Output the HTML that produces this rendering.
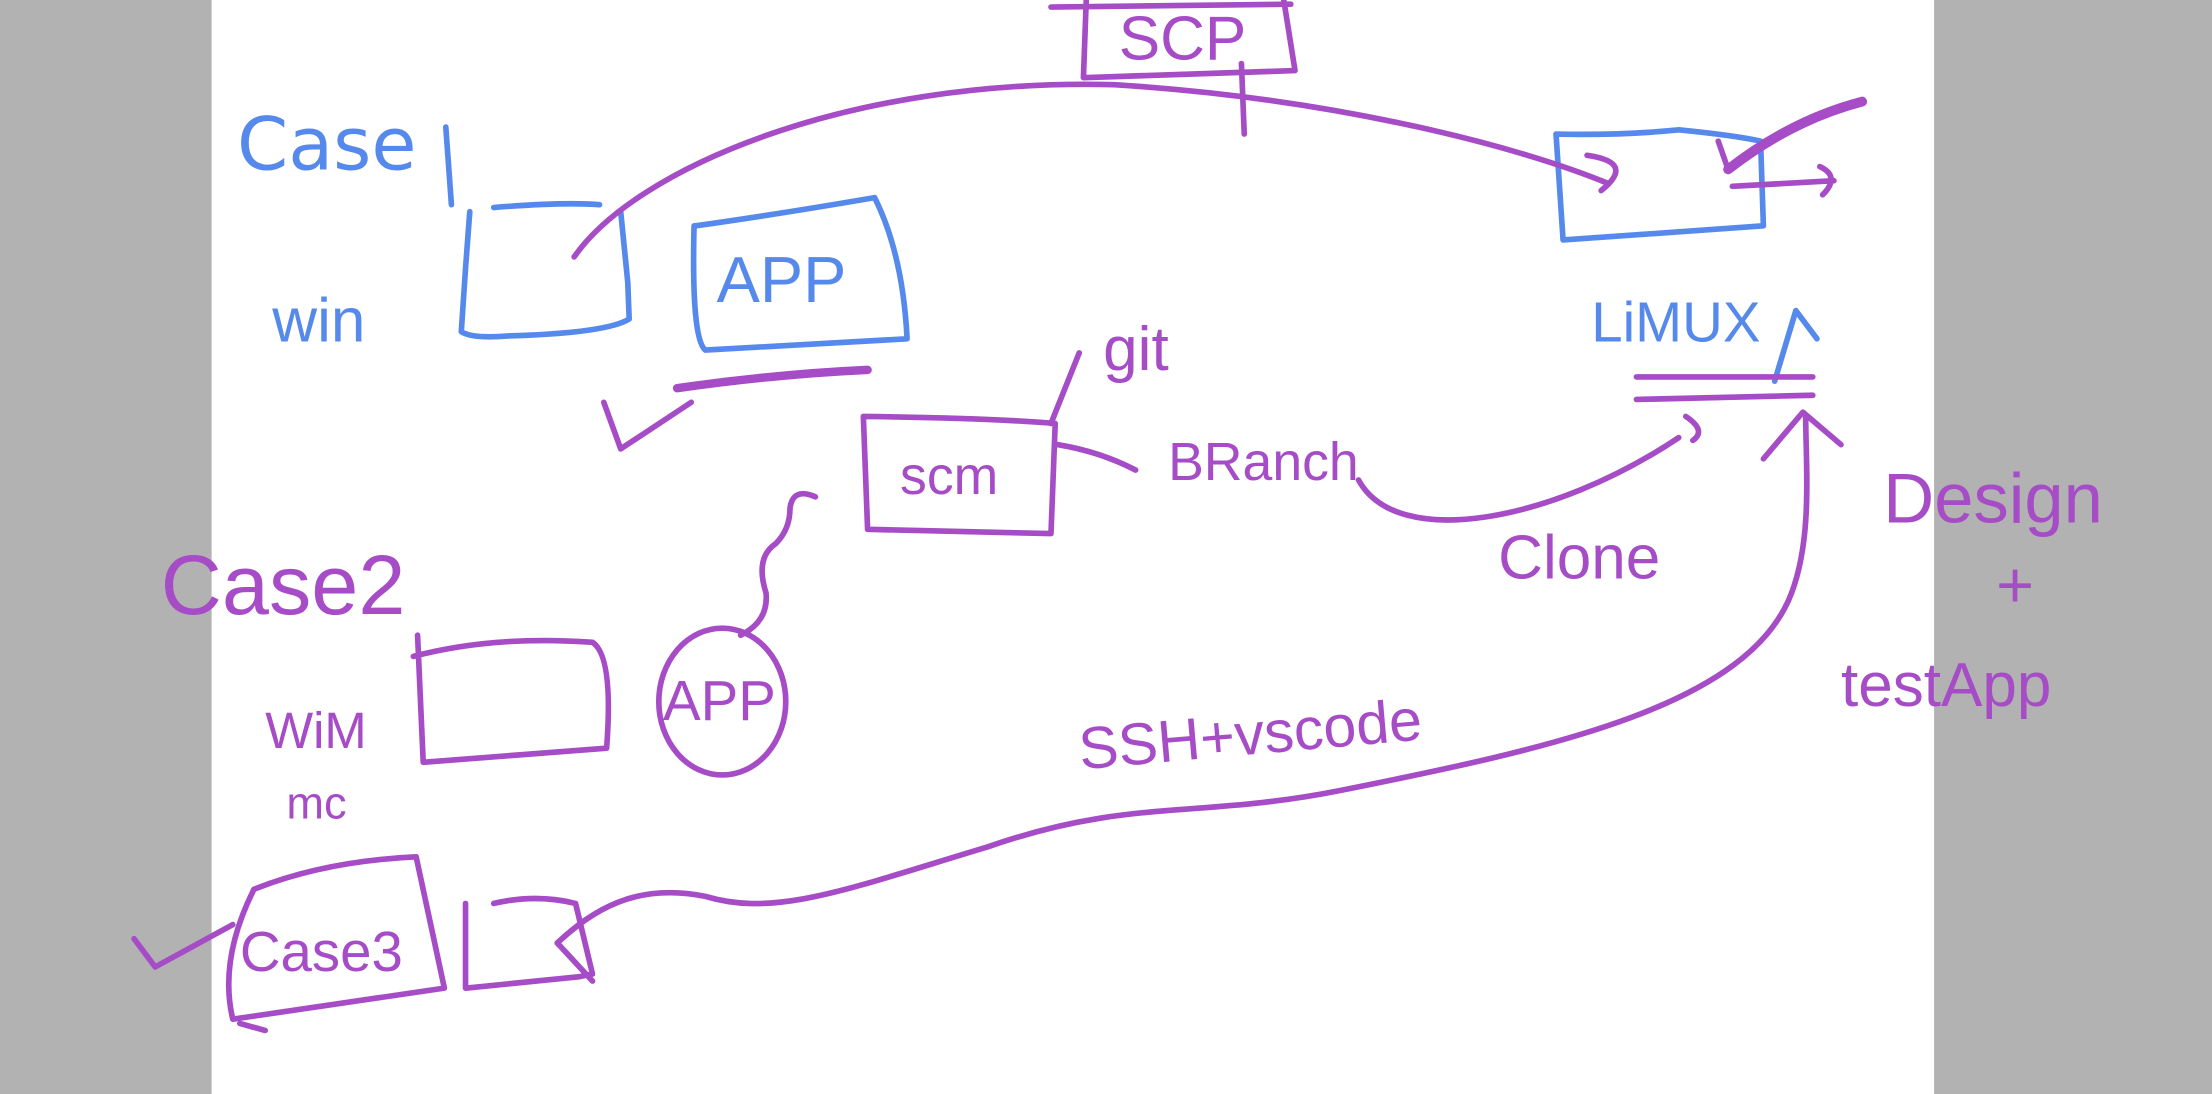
<!DOCTYPE html>
<html><head><meta charset="utf-8"><style>
html,body{margin:0;padding:0;background:#fff;}
svg{display:block;}
text{font-family:"Liberation Sans",sans-serif;}
</style></head><body>
<svg width="2212" height="1094" viewBox="0 0 1568 775" preserveAspectRatio="none" xmlns="http://www.w3.org/2000/svg">
<rect x="0" y="0" width="1568" height="775" fill="#fff"/>
<rect x="0" y="0" width="150" height="775" fill="#b2b2b2"/>
<rect x="1371" y="0" width="197" height="775" fill="#b2b2b2"/>
<g fill="none" stroke-linecap="round" stroke-linejoin="round" stroke-width="4">
<!-- blue -->
<g stroke="#5689ec">
<path d="M316,90 L320,145"/>
<path d="M333,150 L330,190 L327,235 Q335,240 360,238 Q430,236 446,226 L445,200 L440,150"/>
<path d="M350,147 Q400,143 425,145"/>
<path d="M493,160 Q550,152 620,140 Q640,180 643,240 L500,248 Q490,240 492,160 Z"/>
<path d="M1103,95 L1108,170 L1250,160 L1248,100 Q1230,96 1190,92 Q1150,96 1103,95"/>
<path d="M1258,270 L1273,220 L1288,240"/>
</g>
<g fill="#5689ec" stroke="none">
<text x="168" y="120" font-size="52" style="font-family:'DejaVu Sans',sans-serif">Case</text>
<text x="193" y="242" font-size="44">win</text>
<text x="508" y="214" font-size="46">APP</text>
<text x="1128" y="242" font-size="40">LiMUX</text>
</g>
<!-- purple -->
<g stroke="#a64cc6">
<path d="M770,0 L768,55 L918,50 L910,0"/>
<path d="M745,5 L915,3"/>
<path d="M880,45 L882,95"/>
<path d="M407,182 C450,120 600,55 790,60 C950,70 1080,105 1140,130"/>
<path d="M1125,110 Q1160,115 1135,135"/>
<path d="M1225,120 Q1270,85 1320,72" stroke-width="7"/>
<path d="M1218,100 L1225,120"/>
<path d="M1228,132 L1300,128 M1290,118 Q1305,125 1292,138"/>
<path d="M615,262 Q550,265 480,275" stroke-width="6"/>
<path d="M428,285 L440,318 L490,285"/>
<path d="M612,295 L615,375 L745,378 L748,300 Q700,296 612,295"/>
<path d="M765,250 L745,300"/>
<path d="M750,315 Q780,320 805,333"/>
<path d="M963,340 C990,390 1100,370 1190,310 M1195,295 Q1210,305 1200,312"/>
<path d="M1160,267 L1285,267 M1160,283 L1285,280"/>
<path d="M293,465 Q350,450 420,455 Q435,465 430,530 L300,540 L296,450"/>
<ellipse cx="512" cy="497" rx="45" ry="52"/>
<path d="M525,450 Q545,440 543,420 Q535,395 550,385 Q560,375 560,360 Q562,345 578,352"/>
<path d="M1280,295 C1280,330 1285,380 1270,420 C1240,500 1100,530 950,560 C850,580 800,565 700,600 C600,630 550,650 500,635 C450,625 420,645 395,668"/>
<path d="M1250,325 L1278,292 L1305,315"/>
<path d="M395,668 L420,695"/>
<path d="M180,630 Q230,610 295,607 L315,700 L165,722 Q155,680 180,630"/>
<path d="M170,725 L188,730"/>
<path d="M95,665 L110,685 L165,655"/>
<path d="M330,640 L330,700 L410,692 L420,690 L408,640 Q380,633 350,640"/>
</g>
<g fill="#a64cc6" stroke="none">
<text x="793" y="42" font-size="44">SCP</text>
<text x="638" y="350" font-size="38">scm</text>
<text x="782" y="262" font-size="44">git</text>
<text x="828" y="340" font-size="38">BRanch</text>
<text x="1062" y="410" font-size="44">Clone</text>
<text x="114" y="435" font-size="60">Case2</text>
<text x="188" y="530" font-size="36">WiM</text>
<text x="203" y="580" font-size="32">mc</text>
<text x="470" y="510" font-size="40">APP</text>
<text x="766" y="545" font-size="42" transform="rotate(-5 766 545)">SSH+vscode</text>
<text x="1335" y="370" font-size="50">Design</text>
<text x="1415" y="430" font-size="46">+</text>
<text x="1305" y="500" font-size="44">testApp</text>
<text x="170" y="688" font-size="40">Case3</text>
</g>
</g>
</svg>
</body></html>
